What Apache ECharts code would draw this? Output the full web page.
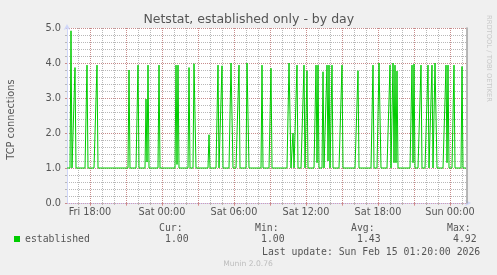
<!DOCTYPE html>
<html><head><meta charset="utf-8">
<script src="https://cdn.jsdelivr.net/npm/echarts@6/dist/echarts.min.js"></script>
<style>html,body{margin:0;padding:0;background:#f0f0f0}#c{width:497px;height:275px}</style>
</head><body><div id="c"></div>
<script>
// Time in hours counted from Fri 00:00; one sample every 5 minutes
const startHour = 16 + 5 / 60;   // Fri 16:05
const endHour = 49 + 25 / 60;    // Sun 01:25
const stepHours = 5 / 60;

// established TCP connections, 400 samples (5 min each)
const established = [
  1,1,1,1,4.92,1,1,1,3.87,1,1,1,1,1,1,1,1,1,1,1,
  3.94,1,1,1,1,1,1,1,1,1,3.94,1,1,1,1,1,1,1,1,1,
  1,1,1,1,1,1,1,1,1,1,1,1,1,1,1,1,1,1,1,1,
  1,1,3.8,1,1,1,1,1,1,1,1,3.94,1,1,1,1,1,1,1,2.97,
  1.17,3.94,1,1,1,1,1,1,1,1,1,1,3.94,1,1,1,1,1,1,1,
  1,1,1,1,1,1,1,1,1,3.94,1.1,3.94,1,1,1,1,1,1,1,1,
  1,1,3.87,1,1,1,1,3.98,4,1,1,1,1,1,1,1,1,1,1,1,
  1,1,1.95,1,1,1,1,1,1,1,1,3.94,1,1,1,3.92,1,1,1,1,
  1,1,1,1,4,4,1,1,1,1,1,1,3.94,1,1,1,1,1,1,1,
  4,4,1,1,1,1,1,1,1,1,1,1,1,1,1,3.94,1,1,1,1,
  1,1,1,1,3.85,1,1,1,1,1,1,1,1,1,1,1,1,1,1,1,
  1,1,4,4,1,1,2,1,1,1,3.94,1,1,1,1,1,1,3.94,1,1,
  3.78,1,1,1,1,1,1,1,1,3.94,1.15,3.94,1,1,1,1,3.75,1,1,1,
  3.94,1.2,3.94,1,1,3.94,1,1,1,1,1,1,1,1,1,3.94,1,1,1,1,
  1,1,1,1,1,1,1,1,1,1,1,3.78,1,1,1,1,1,1,1,1,
  1,1,1,1,1,1,3.94,1,1,1,1,1,4,4,1,1,1,1,1,1,
  1,1,1,3.94,1,1,4,1.15,3.94,1.15,3.77,1,1,1,1,1,1,1,1,1,
  1,1,1,1,1,3.94,1.15,3.97,1,1,1,1,1,1,3.94,1,1,1,1,1,
  1,3.94,1,1,1,3.94,1,1,4,4,1,1,1,1,1,1,1,1,1,3.94,
  1.15,3.94,1,1,1,1,1,3.94,1,1,1,1,1,1,1,3.9,1,1,1,1
];

const xLabelHours = [18, 24, 30, 36, 42, 48];
const xLabelTexts = ['Fri 18:00', 'Sat 00:00', 'Sat 06:00', 'Sat 12:00', 'Sat 18:00', 'Sun 00:00'];
const xMinorHours = [17,18,19,20,21,22,23,24,25,26,27,28,29,30,31,32,33,34,35,36,37,38,39,40,41,42,43,44,45,46,47,48,49];
const xMajorHours = [18,21,24,27,30,33,36,39,42,45,48];

const legendHeaders = ['Cur:', 'Min:', 'Avg:', 'Max:'];
const legendValues = ['1.00', '1.00', '1.43', '4.92'];
const lastUpdate = 'Last update: Sun Feb 15 01:20:00 2026';

const AXIS = '#CFD6F8';
const FONT = '#555555';
const MINOR = '#b8b8b8';
const MAJOR = 'rgba(222,79,79,0.42)';
const SANS = 'DejaVu Sans';
const MONO = 'DejaVu Sans Mono';

const chart = echarts.init(document.getElementById('c'), null, {renderer: 'canvas'});

const seriesData = established.map((v, i) => [startHour + i * stepHours, v]);

const headerX = [159, 255, 351, 447];
const valueX = [165, 261, 357, 453];
const graphics = [
  {type: 'text', x: 248.8, y: 20, style: {text: 'Netstat, established only - by day', font: '12.5px "DejaVu Sans"', fill: FONT, align: 'center', verticalAlign: 'middle'}},
  {type: 'text', x: 11, y: 119.5, rotation: Math.PI / 2, style: {text: 'TCP connections', font: '9.8px "DejaVu Sans"', fill: FONT, align: 'center', verticalAlign: 'middle'}},
  {type: 'text', x: 489, y: 58.5, rotation: -Math.PI / 2, style: {text: 'RRDTOOL / TOBI OETIKER', font: '6.75px "DejaVu Sans"', fill: '#c8c8c8', align: 'center', verticalAlign: 'middle'}},
  {type: 'text', x: 262, y: 252, style: {text: lastUpdate, font: '9.8px "DejaVu Sans Mono"', fill: FONT, align: 'left', verticalAlign: 'middle'}},
  {type: 'text', x: 248, y: 264, style: {text: 'Munin 2.0.76', font: '7.6px "DejaVu Sans"', fill: '#bdbdbd', align: 'center', verticalAlign: 'middle'}}
];
legendHeaders.forEach((h, k) => {
  graphics.push({type: 'text', x: headerX[k], y: 228.2, style: {text: h, font: '9.8px "DejaVu Sans Mono"', fill: FONT, align: 'left', verticalAlign: 'middle'}});
  graphics.push({type: 'text', x: valueX[k], y: 239.8, style: {text: legendValues[k], font: '9.8px "DejaVu Sans Mono"', fill: FONT, align: 'left', verticalAlign: 'middle'}});
});

chart.setOption({
  backgroundColor: '#f0f0f0',
  animation: false,
  grid: {left: 67, right: 30, top: 28, bottom: 72, show: true, backgroundColor: '#ffffff', borderWidth: 0, containLabel: false},
  legend: {
    show: true, left: 14, top: 234, padding: 0, itemWidth: 6, itemHeight: 6, icon: 'rect',
    textStyle: {fontFamily: MONO, fontSize: 9.8, color: FONT},
    data: ['established']
  },
  xAxis: [
    {
      type: 'value', min: startHour, max: endHour, position: 'bottom', z: 0,
      axisLine: {show: true, lineStyle: {color: AXIS, width: 1}, symbol: ['none', 'arrow'], symbolSize: [5, 6], symbolOffset: [0, 4]},
      axisTick: {show: true, customValues: xMinorHours, length: 2, lineStyle: {color: MINOR}},
      axisLabel: {show: true, customValues: xLabelHours, margin: 4, fontFamily: SANS, fontSize: 9.7, color: FONT,
        formatter: v => xLabelTexts[xLabelHours.indexOf(Math.round(v))] || ''},
      splitLine: {show: true, lineStyle: {color: MINOR, type: 'dotted', width: 1}}
    },
    {
      type: 'value', min: startHour, max: endHour, position: 'bottom', z: 1,
      axisLine: {show: false},
      axisTick: {show: true, customValues: xMajorHours, length: 3, lineStyle: {color: MAJOR}},
      axisLabel: {show: false},
      splitLine: {show: true, lineStyle: {color: MAJOR, type: 'dotted', width: 1}}
    }
  ],
  yAxis: [
    {
      type: 'value', min: 0, max: 5, interval: 1, position: 'left', z: 1,
      axisLine: {show: true, lineStyle: {color: AXIS, width: 1}, symbol: ['none', 'arrow'], symbolSize: [5, 6], symbolOffset: [0, 4]},
      axisTick: {show: true, length: 2, lineStyle: {color: MAJOR}},
      axisLabel: {show: true, margin: 6, fontFamily: SANS, fontSize: 9.8, color: FONT, formatter: v => v.toFixed(1)},
      splitLine: {show: true, lineStyle: {color: MAJOR, type: 'dotted', width: 1}}
    },
    {
      type: 'value', min: 0, max: 5, interval: 0.2, position: 'left', z: 0,
      axisLine: {show: false},
      axisTick: {show: true, length: 2, lineStyle: {color: MINOR}},
      axisLabel: {show: false},
      splitLine: {show: true, lineStyle: {color: MINOR, type: 'dotted', width: 1}}
    },
    {
      type: 'value', min: 0, max: 5, position: 'right', z: 1,
      axisLine: {show: true, lineStyle: {color: '#a0a0a0', width: 1.5}},
      axisTick: {show: false}, axisLabel: {show: false}, splitLine: {show: false}
    }
  ],
  series: [{
    name: 'established', type: 'line', xAxisIndex: 0, yAxisIndex: 0,
    data: seriesData, showSymbol: false, symbol: 'none', smooth: false, sampling: null,
    color: '#00cc00', itemStyle: {color: '#00cc00'},
    lineStyle: {color: '#00cc00', width: 1}, z: 3
  }],
  graphic: graphics
});
</script>
</body></html>
